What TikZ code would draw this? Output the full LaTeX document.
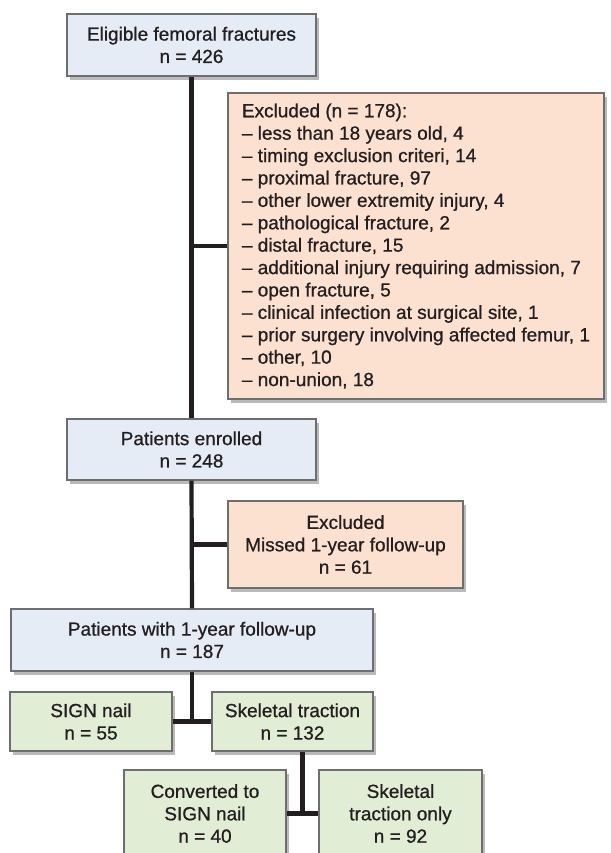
\documentclass[tikz,border=0pt]{standalone}
\usepackage{fontspec}
\setmainfont{Liberation Sans}
\newfontfamily\chartfont[FakeBold=0.8]{Liberation Sans}
\usetikzlibrary{shadows,calc}

\definecolor{boxblue}{RGB}{229,236,246}
\definecolor{boxsalmon}{RGB}{253,225,208}
\definecolor{boxgreen}{RGB}{226,237,213}
\definecolor{framegray}{RGB}{110,110,113}
\definecolor{inkdark}{RGB}{35,31,32}

\begin{document}
\begin{tikzpicture}[x=1pt, y=-1pt,
    font=\chartfont\fontsize{19}{22.4}\selectfont, text=inkdark,
    flowbox/.style={draw=framegray, line width=1.2pt, align=center, inner sep=0pt,
        drop shadow={shadow xshift=3pt, shadow yshift=-4pt, opacity=0.45, fill=black!60}},
    mainbox/.style={flowbox, fill=boxblue},
    exclbox/.style={flowbox, fill=boxsalmon},
    armbox/.style={flowbox, fill=boxgreen},
    link/.style={draw=inkdark, line width=4.2pt}]
    \clip (0,0) rectangle (610,853);

    % Main column
    \node[mainbox, minimum width=249pt, minimum height=62pt] (elig) at (191.5,45)
        {Eligible femoral fractures\\n = 426};
    \node[mainbox, minimum width=249pt, minimum height=61pt] (enrolled) at (191.5,449.5)
        {Patients enrolled\\n = 248};
    \node[mainbox, minimum width=362pt, minimum height=62pt] (followup) at (192,640)
        {Patients with 1-year follow-up\\n = 187};

    % Exclusions
    \node[exclbox, minimum width=376pt, minimum height=306pt, align=left] (excl) at (416,246)
        {Excluded (n = 178):\\
         – less than 18 years old, 4\\
         – timing exclusion criteri, 14\\
         – proximal fracture, 97\\
         – other lower extremity injury, 4\\
         – pathological fracture, 2\\
         – distal fracture, 15\\
         – additional injury requiring admission, 7\\
         – open fracture, 5\\
         – clinical infection at surgical site, 1\\
         – prior surgery involving affected femur, 1\\
         – other, 10\\
         – non-union, 18};
    \node[exclbox, minimum width=235pt, minimum height=87pt] (missed) at (345.5,544.5)
        {Excluded\\Missed 1-year follow-up\\n = 61};

    % Treatment arms
    \node[armbox, minimum width=162pt, minimum height=59pt] (sign) at (91,721.5)
        {SIGN nail\\n = 55};
    \node[armbox, minimum width=161pt, minimum height=59pt] (traction) at (292.5,721.5)
        {Skeletal traction\\n = 132};
    \node[armbox, minimum width=162pt, minimum height=87pt] (converted) at (205,813.5)
        {Converted to\\SIGN nail\\n = 40};
    \node[armbox, minimum width=163pt, minimum height=87pt] (tractonly) at (400.5,813.5)
        {Skeletal\\traction only\\n = 92};

    % Connectors
    \draw[link] (elig.south) -- (enrolled.north);
    \draw[link] (excl.west) -- (excl.west -| elig.south);
    \draw[link] (enrolled.south) -- (followup.north);
    \draw[link] (missed.west) -- (missed.west -| enrolled.south);

    \coordinate (armsplit) at ($(sign.east)!0.5!(traction.west)$);
    \draw[link] (followup.south -| armsplit) -- (armsplit);
    \draw[link] (sign.east) -- (traction.west);

    \coordinate (tractsplit) at ($(converted.east)!0.5!(tractonly.west)$);
    \draw[link] (traction.south -| tractsplit) -- (tractsplit);
    \draw[link] (converted.east) -- (tractonly.west);

\end{tikzpicture}
\end{document}
